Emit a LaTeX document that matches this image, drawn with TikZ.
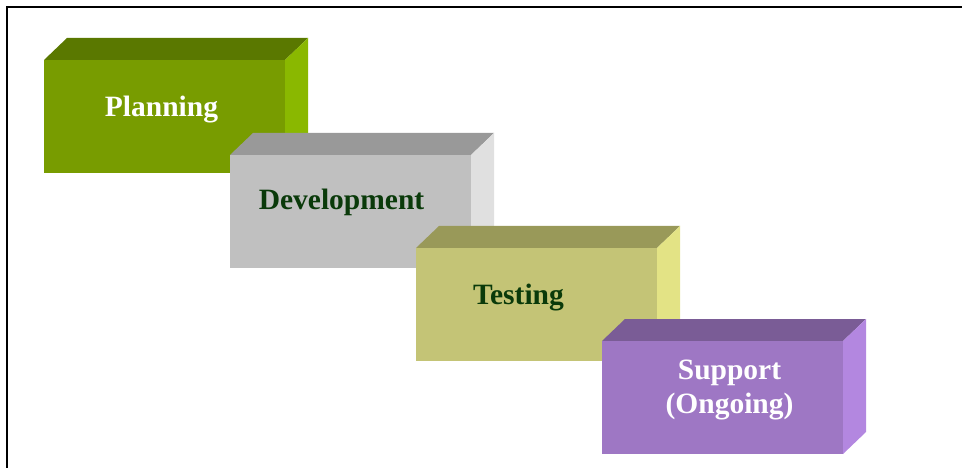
\documentclass[tikz,border=0pt]{standalone}
\usepackage{fontspec}
\setmainfont{Liberation Serif}
\definecolor{planfront}{HTML}{789C00}
\definecolor{plantop}{HTML}{5A7800}
\definecolor{planside}{HTML}{8AB800}
\definecolor{devfront}{HTML}{C0C0C0}
\definecolor{devtop}{HTML}{999999}
\definecolor{devside}{HTML}{E0E0E0}
\definecolor{testfront}{HTML}{C4C476}
\definecolor{testtop}{HTML}{999959}
\definecolor{testside}{HTML}{E3E385}
\definecolor{supfront}{HTML}{9E77C4}
\definecolor{suptop}{HTML}{7A5C96}
\definecolor{supside}{HTML}{B387E0}
\definecolor{darktext}{HTML}{0A3A0A}
\begin{document}
\begin{tikzpicture}[x=1pt,y=-1pt, line join=miter,
		font=\fontsize{29.5}{34}\selectfont\bfseries,
		lbl/.style={anchor=base, inner sep=0pt}]
		\useasboundingbox (0,0) rectangle (962,468);
		% frame
		\draw[line width=2pt] (6.5,470)--(6.5,7)--(964,7);
		% planning
		\fill[plantop] (44,60)--++(23,-22)--++(241,0)--++(-23,22)--cycle;
		\fill[planside] (285,60)--++(23,-22)--++(0,113)--++(-23,22)--cycle;
		\fill[planfront] (44,60) rectangle ++(241,113);
		% development
		\fill[devtop] (230,155)--++(23,-22)--++(241,0)--++(-23,22)--cycle;
		\fill[devside] (471,155)--++(23,-22)--++(0,113)--++(-23,22)--cycle;
		\fill[devfront] (230,155) rectangle ++(241,113);
		% testing
		\fill[testtop] (416,248)--++(23,-22)--++(241,0)--++(-23,22)--cycle;
		\fill[testside] (657,248)--++(23,-22)--++(0,113)--++(-23,22)--cycle;
		\fill[testfront] (416,248) rectangle ++(241,113);
		% support
		\fill[suptop] (602,341)--++(23,-22)--++(241,0)--++(-23,22)--cycle;
		\fill[supside] (843,341)--++(23,-22)--++(0,113)--++(-23,22)--cycle;
		\fill[supfront] (602,341) rectangle ++(241,113);
		% labels
		\node[lbl, white] (planning) at (161.5,117) {Planning};
		\node[lbl, darktext] (development) at (341.5,210) {Development};
		\node[lbl, darktext] (testing) at (518.5,304) {Testing};
		\node[lbl, white] (support) at (729.5,379) {Support};
		\node[lbl, white] (ongoing) at (729.5,413) {(Ongoing)};
	\end{tikzpicture}
\end{document}
